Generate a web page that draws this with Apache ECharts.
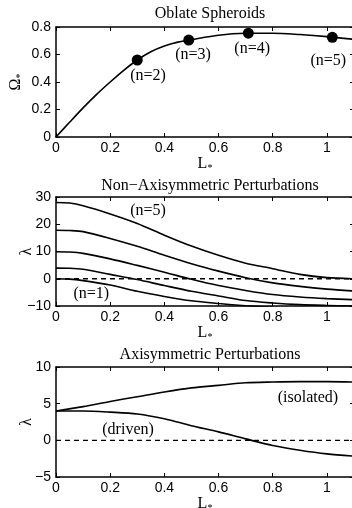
<!DOCTYPE html>
<html><head><meta charset="utf-8">
<script src="https://cdn.jsdelivr.net/npm/echarts@6/dist/echarts.min.js"></script>
<style>html,body{margin:0;padding:0;background:#fff}#c{width:352px;height:508px}</style>
</head><body><div id="c"></div>
<script>
// ---------- data ----------
// Panel 1: Oblate spheroids
const L1 = [0,0.05,0.1,0.15,0.2,0.25,0.3,0.35,0.4,0.45,0.5,0.6,0.7,0.8,0.9,1.0,1.1];
const omega = [0,0.107,0.212,0.31,0.40,0.485,0.56,0.62,0.662,0.69,0.708,0.74,0.754,0.755,0.745,0.73,0.71];
const dotL = [0.30, 0.49, 0.71, 1.02];
const dotOmega = [0.56, 0.705, 0.755, 0.725];
const dotLabels = ['(n=2)','(n=3)','(n=4)','(n=5)'];
const dotLabelL = [0.34, 0.506, 0.724, 1.005];
const dotLabelOmega = [0.444, 0.596, 0.64, 0.553];
// Panel 2: non-axisymmetric perturbations
const L2 = [0,0.05,0.1,0.2,0.3,0.4,0.5,0.6,0.7,0.8,0.9,1.0,1.1];
const lamN5 = [28,27.8,26.8,23.8,20.3,16.0,12.0,8.6,5.7,3.7,1.6,0.4,0.0];
const lamN4 = [17.8,17.7,17.3,14.8,11.9,8.6,5.5,2.8,0.4,-1.5,-2.8,-3.8,-4.5];
const lamN3 = [9.9,9.8,9.3,7.3,4.9,2.4,-0.2,-2.5,-4.3,-5.8,-6.7,-7.3,-7.7];
const lamN2 = [3.9,3.85,3.5,1.6,-0.3,-2.5,-4.6,-6.3,-8.0,-8.9,-9.5,-9.8,-10.0];
const lamN1 = [0,-0.15,-0.7,-2.3,-4.6,-6.5,-8.1,-9.1,-9.9,-10.5,-11,-11.4,-11.7];
const nonAxiLabels = ['(n=5)','(n=1)'];
const nonAxiLabelL = [0.34, 0.13];
const nonAxiLabelLam = [25, -5.4];
// Panel 3: axisymmetric perturbations
const L3 = [0,0.1,0.2,0.3,0.4,0.5,0.6,0.7,0.8,0.9,1.0,1.1];
const lamIsolated = [4.0,4.6,5.3,5.95,6.6,7.15,7.5,7.85,7.95,8.0,8.0,7.95];
const lamDriven = [4.0,4.0,3.85,3.6,2.95,2.0,1.15,0.2,-0.7,-1.35,-1.85,-2.15];
const axiLabels = ['(isolated)','(driven)'];
const axiLabelL = [0.93, 0.266];
const axiLabelLam = [5.8, 1.4];
// reference (dashed) line at zero
const zeroL = [0, 1.1];
const zeroLam = [0, 0];
const titles = ['Oblate Spheroids','Non\u2212Axisymmetric Perturbations','Axisymmetric Perturbations'];
const yRanges = [[0,0.8,0.2],[-10,30,10],[-5,10,5]];

// ---------- layout ----------
const grids = [
  {left:56, top:27, width:298, height:110, outerBoundsMode:'none', containLabel:false},
  {left:56, top:197, width:298, height:109, outerBoundsMode:'none', containLabel:false},
  {left:56, top:367, width:298, height:110, outerBoundsMode:'none', containLabel:false}
];
const titleTops = [1, 173, 342];
const sans = 'Liberation Sans', serif = 'Liberation Serif';
const minus = v => String(v).replace('-', '\u2212');
const nameRich = {a:{fontFamily:serif, fontSize:16, color:'#000'}, b:{fontFamily:serif, fontSize:10, color:'#000', padding:[8,0,0,0]}};
const axLine = {show:true, onZero:false, lineStyle:{color:'#000', width:1.5}};
const axTick = {show:true, inside:true, length:4, lineStyle:{color:'#000'}};

const xAxes = [], yAxes = [];
grids.forEach((g, i) => {
  xAxes.push({gridIndex:i, type:'value', min:0, max:1.1, interval:0.2, position:'bottom',
    axisLine:axLine, axisTick:axTick,
    axisLabel:{color:'#000', fontFamily:sans, fontSize:14, margin:4, showMaxLabel:false, formatter:v=>minus(v)},
    splitLine:{show:false},
    name:'{a|L}{b|*}', nameLocation:'middle', nameGap:18, nameMoveOverlap:false, nameTextStyle:{rich:nameRich}
  });
  xAxes.push({gridIndex:i, type:'value', min:0, max:1.1, interval:0.2, position:'top',
    axisLine:axLine, axisTick:axTick, axisLabel:{show:false}, splitLine:{show:false}});
  const r = yRanges[i];
  yAxes.push({gridIndex:i, type:'value', min:r[0], max:r[1], interval:r[2], position:'left',
    axisLine:axLine, axisTick:axTick,
    axisLabel:{color:'#000', fontFamily:sans, fontSize:14, margin:5, formatter:v=>minus(v)},
    splitLine:{show:false},
    name: i===0 ? '{a|\u03A9}{b|*}' : '{a|\u03BB}', nameLocation:'middle', nameRotate:90, nameGap: i===0 ? 31 : 21,
    nameMoveOverlap:false, nameTextStyle:{rich:nameRich}
  });
  yAxes.push({gridIndex:i, type:'value', min:r[0], max:r[1], interval:r[2], position:'right',
    axisLine:axLine, axisTick:axTick, axisLabel:{show:false}, splitLine:{show:false}});
});

const zip = (a, b) => a.map((v, k) => [v, b[k]]);
const lineStyle = {color:'#000', width:1.6};
const curve = (gi, xs, ys) => ({type:'line', xAxisIndex:gi*2, yAxisIndex:gi*2, data:zip(xs, ys),
  smooth:0.3, showSymbol:false, symbol:'none', lineStyle:lineStyle, clip:true, silent:true, z:3});
const dashed = (gi, width, dash) => ({type:'line', xAxisIndex:gi*2, yAxisIndex:gi*2, data:zip(zeroL, zeroLam),
  showSymbol:false, symbol:'none', lineStyle:{color:'#000', width:width, type:dash}, silent:true, z:2});
const labelSeries = (gi, xs, ys, texts) => ({type:'scatter', xAxisIndex:gi*2, yAxisIndex:gi*2,
  data: xs.map((x, k) => ({value:[x, ys[k]], label:{formatter:texts[k]}})), symbolSize:0,
  itemStyle:{color:'#000', opacity:1}, silent:true, z:5,
  label:{show:true, position:'inside', color:'#000', opacity:1, fontFamily:serif, fontSize:16}});

const series = [
  curve(0, L1, omega),
  {type:'scatter', xAxisIndex:0, yAxisIndex:0, data:zip(dotL, dotOmega), symbolSize:11, itemStyle:{color:'#000', opacity:1}, silent:true, z:4},
  labelSeries(0, dotLabelL, dotLabelOmega, dotLabels),
  dashed(1, 1.5, [5,4]),
  curve(1, L2, lamN5), curve(1, L2, lamN4), curve(1, L2, lamN3), curve(1, L2, lamN2), curve(1, L2, lamN1),
  labelSeries(1, nonAxiLabelL, nonAxiLabelLam, nonAxiLabels),
  dashed(2, 1.1, [5,4]),
  curve(2, L3, lamIsolated),
  curve(2, L3, lamDriven),
  labelSeries(2, axiLabelL, axiLabelLam, axiLabels)
];

const chart = echarts.init(document.getElementById('c'), null, {renderer:'canvas'});
chart.setOption({
  animation:false,
  backgroundColor:'#fff',
  title: titles.map((t, i) => ({text:t, left:205, top:titleTops[i], textAlign:'center',
    textStyle:{fontFamily:serif, fontSize:16, fontWeight:'normal', color:'#000'}})),
  grid: grids,
  xAxis: xAxes,
  yAxis: yAxes,
  series: series
});
</script></body></html>
